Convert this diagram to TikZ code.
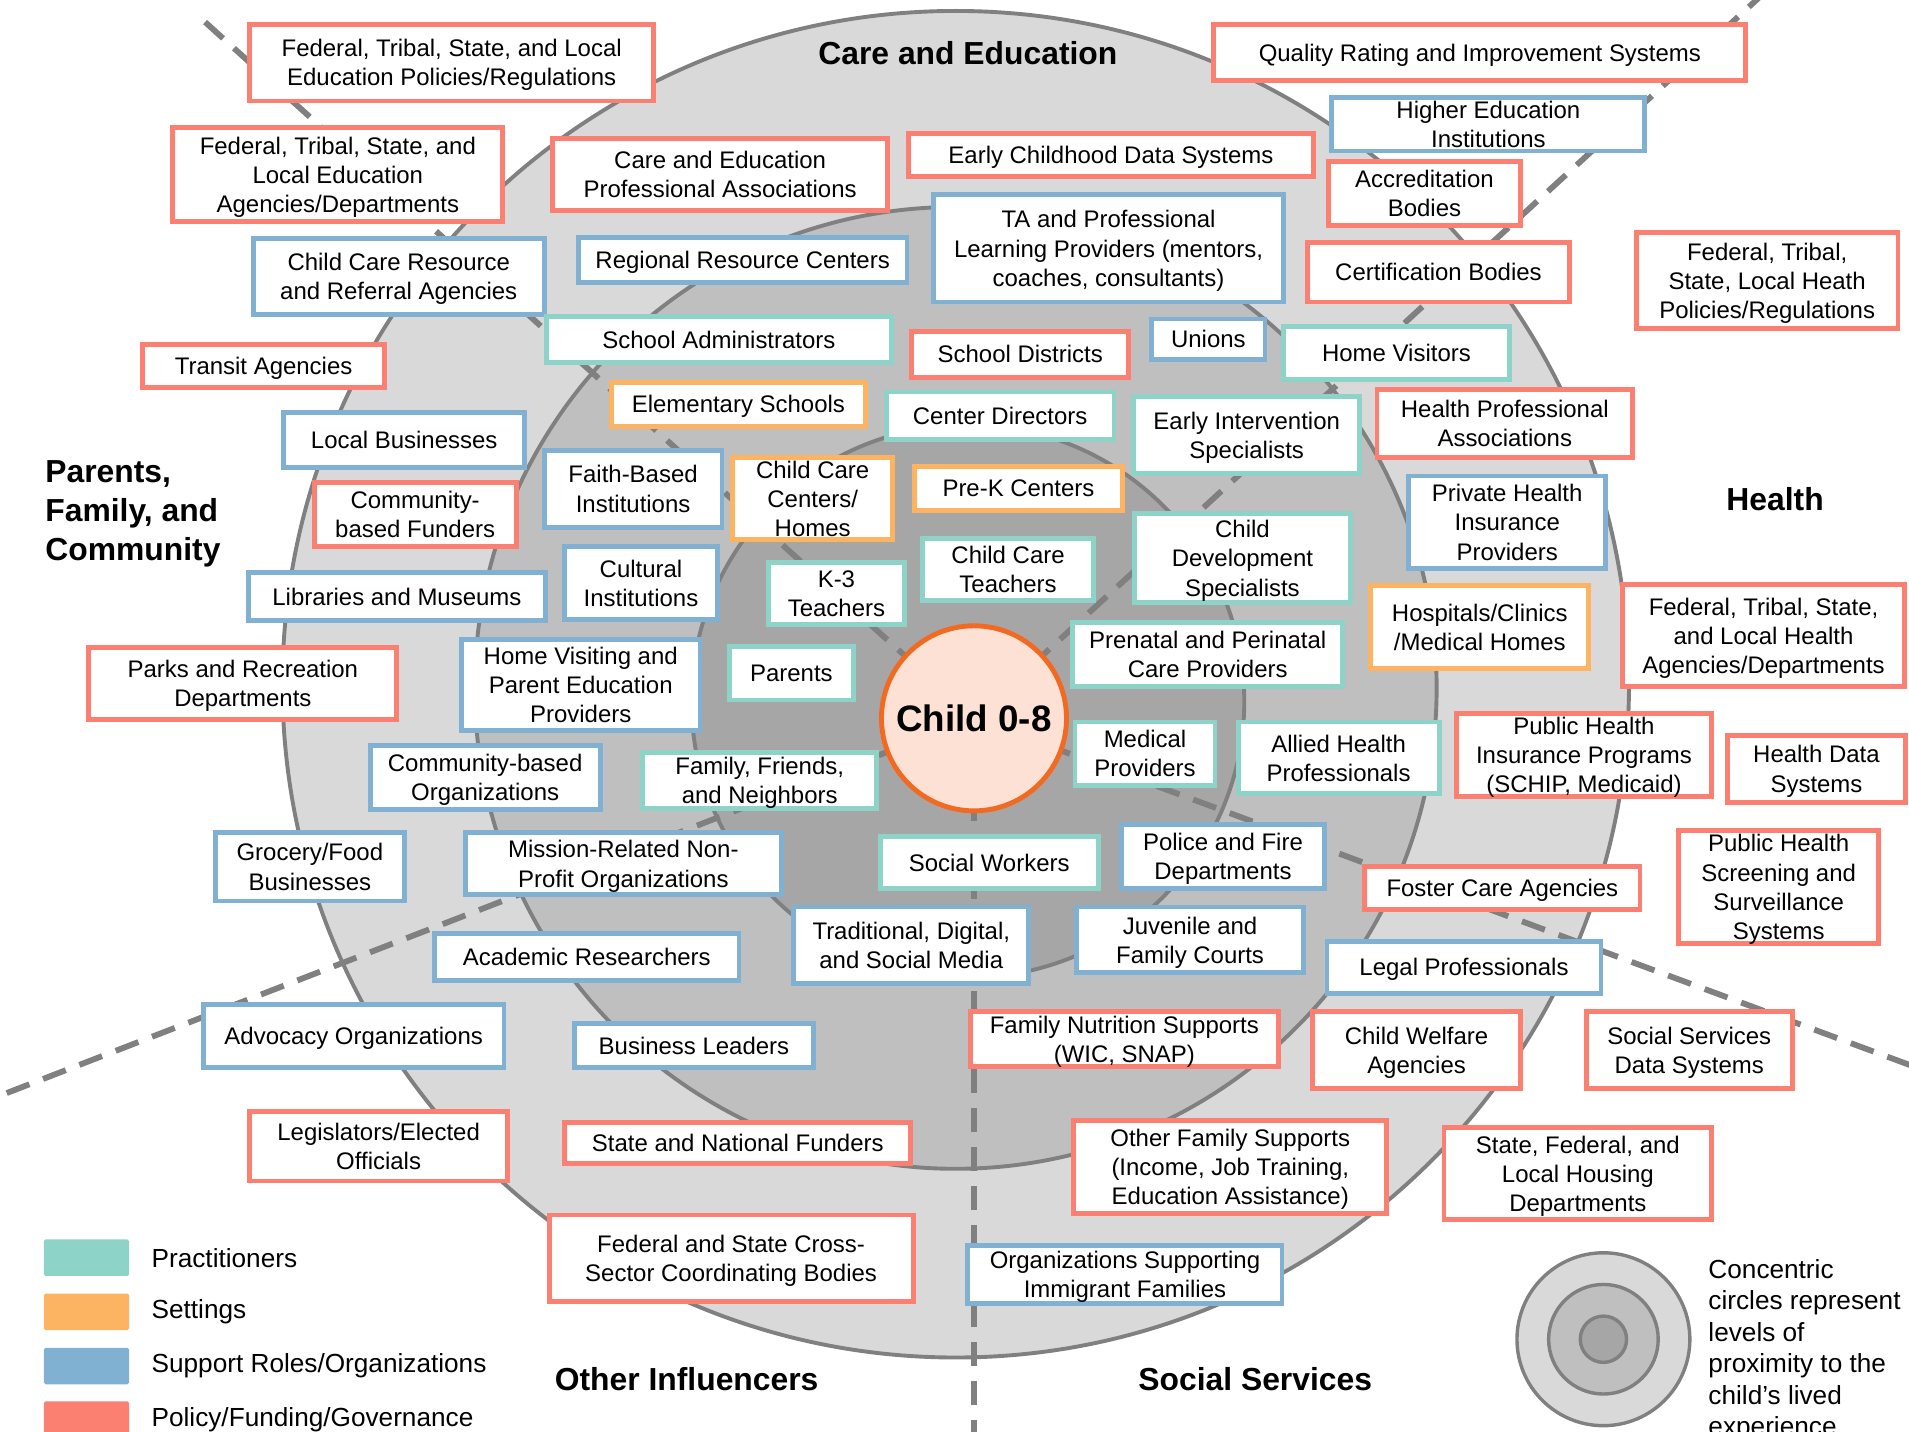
\documentclass[tikz,border=0pt]{standalone}
\usepackage{fontspec}
\setmainfont{Liberation Sans}
\usetikzlibrary{positioning}
\definecolor{practc}{HTML}{8DD3C7}
\definecolor{setc}{HTML}{FDB462}
\definecolor{suppc}{HTML}{80B1D3}
\definecolor{polc}{HTML}{FB8072}
\definecolor{ringout}{HTML}{D9D9D9}
\definecolor{ringmid}{HTML}{BFBFBF}
\definecolor{ringin}{HTML}{A6A6A6}
\definecolor{ringline}{HTML}{808080}
\definecolor{childfill}{HTML}{FCE1D4}
\definecolor{childline}{HTML}{F26A21}

\begin{document}
\begin{tikzpicture}[
  x=0.25mm, y=-0.25mm,
  tag/.style={draw, fill=white, line width=1mm, inner sep=0pt, align=center, text depth=-1.3pt,
    font=\fontsize{14}{17}\selectfont},
  practbox/.style={tag, draw=practc},
  setbox/.style={tag, draw=setc},
  suppbox/.style={tag, draw=suppc},
  polbox/.style={tag, draw=polc},
  boxat/.style n args={4}{at={({(#1+#3)/2},{(#2+#4)/2})}, minimum width={(#3-#1-4)*0.25mm}, minimum height={(#4-#2-4)*0.25mm}},
  ring/.style={draw=ringline, line width=0.8mm},
  divider/.style={draw=ringline, line width=1.2mm, dash pattern=on 5mm off 3mm},
  sector/.style={inner sep=0pt, font=\bfseries\fontsize{18.6}{22.8}\selectfont},
  swatch/.style={minimum width=17.5mm, minimum height=7.5mm, inner sep=0pt, rounded corners=1pt},
  legtext/.style={inner sep=0pt, font=\fontsize{15.3}{18.4}\selectfont}
]
\useasboundingbox (0,0) rectangle (1568,1176);

% levels of proximity
\filldraw[ring, fill=ringout] (785,562) circle[radius=138.25mm];
\filldraw[ring, fill=ringmid] (785,565) circle[radius=98.75mm];
\filldraw[ring, fill=ringin] (795,576) circle[radius=56.75mm];

% sector dividers
\coordinate (hub) at (800,590);
\coordinate (rayNW) at (165,15);
\coordinate (rayNE) at (1447,-4);
\coordinate (rayW) at (5,898);
\coordinate (rayE) at (1572,876);
\coordinate (rayS) at (800,1180);
\draw[divider] (hub) -- (rayNW);
\draw[divider] (hub) -- (rayNE);
\draw[divider] (hub) -- (rayW);
\draw[divider] (hub) -- (rayE);
\draw[divider] (hub) -- (rayS);

\node[circle, draw=childline, fill=childfill, line width=1mm, minimum size=38mm, inner sep=0pt, font=\bfseries\fontsize{21.5}{26}\selectfont] (child) at (hub) {Child 0-8};

% policy, funding, governance
\node[polbox, boxat={203}{18}{539}{85}] (edPolicy) {Federal, Tribal, State, and Local\\Education Policies/Regulations};
\node[polbox, boxat={140}{103}{415}{184}] (edAgency) {Federal, Tribal, State, and\\Local Education\\Agencies/Departments};
\node[polbox, boxat={452}{112}{731}{175}] (ceAssoc) {Care and Education\\Professional Associations};
\node[polbox, boxat={744}{108}{1081}{147}] (ecData) {Early Childhood Data Systems};
\node[polbox, boxat={995}{18}{1436}{68}] (qris) {Quality Rating and Improvement Systems};
\node[polbox, boxat={1089}{131}{1251}{187}] (accred) {Accreditation\\Bodies};
\node[polbox, boxat={1072}{197}{1291}{250}] (certif) {Certification Bodies};
\node[polbox, boxat={1342}{189}{1561}{272}] (healthPolicy) {Federal, Tribal,\\State, Local Heath\\Policies/Regulations};
\node[polbox, boxat={115}{281}{318}{320}] (transit) {Transit Agencies};
\node[polbox, boxat={747}{270}{929}{312}] (schoolDist) {School Districts};
\node[polbox, boxat={256}{394}{426}{451}] (cbFunders) {Community-\\based Funders};
\node[polbox, boxat={1129}{318}{1343}{378}] (healthAssoc) {Health Professional\\Associations};
\node[polbox, boxat={71}{530}{328}{593}] (parks) {Parks and Recreation\\Departments};
\node[polbox, boxat={1331}{478}{1566}{566}] (healthAgency) {Federal, Tribal, State,\\and Local Health\\Agencies/Departments};
\node[polbox, boxat={1194}{584}{1408}{656}] (phInsurance) {Public Health\\Insurance Programs\\(SCHIP, Medicaid)};
\node[polbox, boxat={1417}{602}{1567}{661}] (healthData) {Health Data\\Systems};
\node[polbox, boxat={1377}{680}{1545}{777}] (phScreening) {Public Health\\Screening and\\Surveillance\\Systems};
\node[polbox, boxat={1119}{710}{1349}{749}] (fosterCare) {Foster Care Agencies};
\node[polbox, boxat={795}{829}{1052}{878}] (nutrition) {Family Nutrition Supports\\(WIC, SNAP)};
\node[polbox, boxat={1076}{829}{1251}{896}] (childWelfare) {Child Welfare\\Agencies};
\node[polbox, boxat={1301}{829}{1474}{896}] (ssData) {Social Services\\Data Systems};
\node[polbox, boxat={203}{911}{419}{972}] (legislators) {Legislators/Elected\\Officials};
\node[polbox, boxat={462}{920}{750}{958}] (funders) {State and National Funders};
\node[polbox, boxat={880}{918}{1141}{999}] (otherSupports) {Other Family Supports\\(Income, Job Training,\\Education Assistance)};
\node[polbox, boxat={1184}{924}{1408}{1004}] (housing) {State, Federal, and\\Local Housing\\Departments};
\node[polbox, boxat={449}{996}{752}{1071}] (crossSector) {Federal and State Cross-\\Sector Coordinating Bodies};

% support roles and organizations
\node[suppbox, boxat={1092}{78}{1353}{126}] (higherEd) {Higher Education\\Institutions};
\node[suppbox, boxat={765}{158}{1056}{250}] (taProviders) {TA and Professional\\Learning Providers (mentors,\\coaches, consultants)};
\node[suppbox, boxat={206}{194}{449}{260}] (ccrr) {Child Care Resource\\and Referral Agencies};
\node[suppbox, boxat={473}{193}{747}{234}] (regional) {Regional Resource Centers};
\node[suppbox, boxat={944}{260}{1041}{297}] (unions) {Unions};
\node[suppbox, boxat={231}{337}{433}{386}] (localBiz) {Local Businesses};
\node[suppbox, boxat={445}{368}{595}{435}] (faith) {Faith-Based\\Institutions};
\node[suppbox, boxat={1155}{389}{1321}{469}] (privIns) {Private Health\\Insurance\\Providers};
\node[suppbox, boxat={202}{468}{450}{512}] (libraries) {Libraries and Museums};
\node[suppbox, boxat={462}{447}{591}{511}] (cultural) {Cultural\\Institutions};
\node[suppbox, boxat={377}{523}{577}{602}] (homeVisiting) {Home Visiting and\\Parent Education\\Providers};
\node[suppbox, boxat={302}{610}{495}{667}] (cbOrgs) {Community-based\\Organizations};
\node[suppbox, boxat={175}{682}{334}{742}] (grocery) {Grocery/Food\\Businesses};
\node[suppbox, boxat={380}{682}{644}{737}] (nonprofit) {Mission-Related Non-\\Profit Organizations};
\node[suppbox, boxat={355}{765}{609}{807}] (researchers) {Academic Researchers};
\node[suppbox, boxat={650}{743}{847}{810}] (media) {Traditional, Digital,\\and Social Media};
\node[suppbox, boxat={919}{675}{1090}{732}] (police) {Police and Fire\\Departments};
\node[suppbox, boxat={882}{743}{1073}{801}] (courts) {Juvenile and\\Family Courts};
\node[suppbox, boxat={1088}{771}{1317}{818}] (legal) {Legal Professionals};
\node[suppbox, boxat={165}{823}{416}{879}] (advocacy) {Advocacy Organizations};
\node[suppbox, boxat={470}{839}{670}{879}] (bizLeaders) {Business Leaders};
\node[suppbox, boxat={793}{1021}{1055}{1073}] (immigrant) {Organizations Supporting\\Immigrant Families};

% practitioners
\node[practbox, boxat={447}{258}{734}{300}] (schoolAdmin) {School Administrators};
\node[practbox, boxat={1052}{266}{1242}{314}] (homeVisitors) {Home Visitors};
\node[practbox, boxat={726}{320}{917}{363}] (centerDir) {Center Directors};
\node[practbox, boxat={929}{324}{1119}{391}] (earlyInt) {Early Intervention\\Specialists};
\node[practbox, boxat={629}{460}{745}{515}] (kThree) {K-3\\Teachers};
\node[practbox, boxat={756}{440}{900}{495}] (ccTeachers) {Child Care\\Teachers};
\node[practbox, boxat={930}{420}{1111}{497}] (childDev) {Child\\Development\\Specialists};
\node[practbox, boxat={597}{529}{703}{577}] (parents) {Parents};
\node[practbox, boxat={879}{509}{1105}{566}] (prenatal) {Prenatal and Perinatal\\Care Providers};
\node[practbox, boxat={526}{616}{722}{666}] (friends) {Family, Friends,\\and Neighbors};
\node[practbox, boxat={881}{591}{1000}{647}] (medical) {Medical\\Providers};
\node[practbox, boxat={1015}{591}{1184}{654}] (allied) {Allied Health\\Professionals};
\node[practbox, boxat={721}{685}{904}{732}] (socialWorkers) {Social Workers};

% settings
\node[setbox, boxat={500}{312}{713}{352}] (elementary) {Elementary Schools};
\node[setbox, boxat={600}{374}{735}{445}] (ccCenters) {Child Care\\Centers/\\Homes};
\node[setbox, boxat={749}{381}{924}{421}] (preK) {Pre-K Centers};
\node[setbox, boxat={1124}{479}{1307}{551}] (hospitals) {Hospitals/Clinics\\/Medical Homes};

% sector names
\node[sector] (careEd) at (795,44) {Care and Education};
\node[sector] (health) at (1458,410) {Health};
\node[sector, align=left, anchor=north west] (family) at (37,378) {Parents,\\Family, and\\Community};
\node[sector] (otherInf) at (564,1133) {Other Influencers};
\node[sector] (socServ) at (1031,1133) {Social Services};

% legend
\node[swatch, fill=practc] (legPract) at (71,1033) {};
\node[swatch, fill=setc] (legSet) at (71,1077.5) {};
\node[swatch, fill=suppc] (legSupp) at (71,1122) {};
\node[swatch, fill=polc] (legPol) at (71,1166) {};
\node[legtext, right=4.5mm of legPract] (legPractTxt) {Practitioners};
\node[legtext, right=4.5mm of legSet] (legSetTxt) {Settings};
\node[legtext, right=4.5mm of legSupp] (legSuppTxt) {Support Roles/Organizations};
\node[legtext, right=4.5mm of legPol] (legPolTxt) {Policy/Funding/Governance};

\filldraw[ring, line width=0.7mm, fill=ringout] (1317,1100) circle[radius=17.75mm];
\filldraw[ring, line width=0.7mm, fill=ringmid] (1317,1100) circle[radius=11.25mm];
\filldraw[ring, line width=0.7mm, fill=ringin] (1317,1100) circle[radius=4.75mm];
\node[legtext, align=left, anchor=north west] (ringNote) at (1403,1034) {Concentric\\circles represent\\levels of\\proximity to the\\child’s lived\\experience};
\end{tikzpicture}
\end{document}
